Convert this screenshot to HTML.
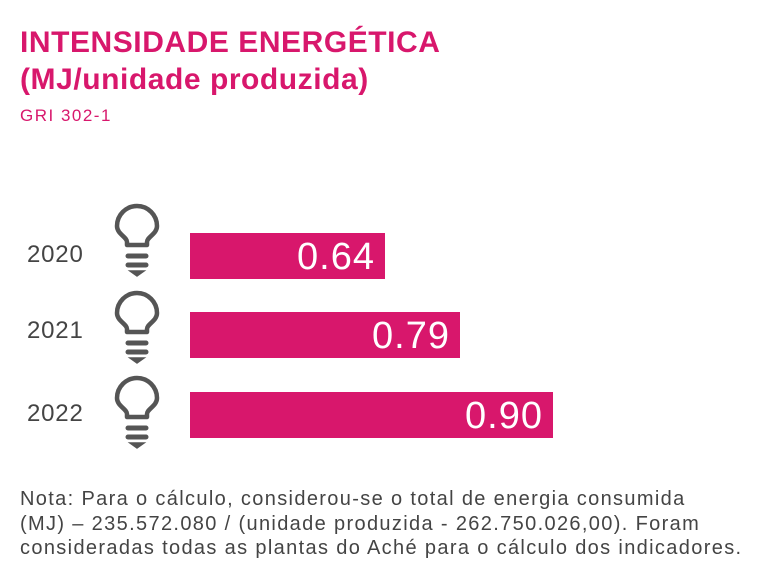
<!DOCTYPE html>
<html><head><meta charset="utf-8"><style>
body{margin:0;width:768px;height:587px;background:#fff;font-family:"Liberation Sans",sans-serif;position:relative;overflow:hidden}
.t{position:absolute;left:20px;color:#d8176c;font-weight:bold;font-size:30px;letter-spacing:0.55px}
.y{position:absolute;left:27px;font-size:24px;color:#444;letter-spacing:0.8px}
.b{position:absolute;left:190px;height:46px;background:#d8176c;color:#fff;font-size:38px;letter-spacing:1px;text-align:right;box-sizing:border-box;padding-right:10px;line-height:48px}
.n{position:absolute;left:20px;top:487px;font-size:20px;letter-spacing:1.35px;color:#444;line-height:24.5px;width:760px;white-space:nowrap}
</style></head><body>
<div class="t" style="top:26px">INTENSIDADE ENERGÉTICA</div>
<div class="t" style="top:63px">(MJ/unidade produzida)</div>
<div style="position:absolute;left:20px;top:106px;font-size:17px;letter-spacing:1.5px;color:#d8176c">GRI 302-1</div>
<div class="y" style="top:241px">2020</div>
<div class="y" style="top:317px">2021</div>
<div class="y" style="top:400px">2022</div>
<div class="b" style="top:233px;width:195px">0.64</div>
<div class="b" style="top:312px;width:270px">0.79</div>
<div class="b" style="top:392px;width:363px">0.90</div>
<svg width="768" height="587" style="position:absolute;left:0;top:0">
<defs><g id="bulb" fill="none" stroke="#555" stroke-width="4.5" stroke-linecap="round">
<path d="M-10,39 L-10,36 C-10,31 -20,28 -20,20 A20,20 0 1 1 20,20 C20,28 10,31 10,36 L10,39 Z" stroke-linejoin="round"/>
<line x1="-9" y1="50" x2="9" y2="50" stroke-width="5"/><line x1="-9" y1="59" x2="9" y2="59" stroke-width="5"/>
<path d="M-7,65 L7,65 L0,70 Z" fill="#555" stroke-width="1.5"/></g></defs>
<use href="#bulb" x="137" y="206"/>
<use href="#bulb" x="137" y="293"/>
<use href="#bulb" x="137" y="378"/>
</svg>
<div class="n">Nota: Para o cálculo, considerou-se o total de energia consumida<br>(MJ) – 235.572.080 / (unidade produzida - 262.750.026,00). Foram<br>consideradas todas as plantas do Aché para o cálculo dos indicadores.</div>
</body></html>
